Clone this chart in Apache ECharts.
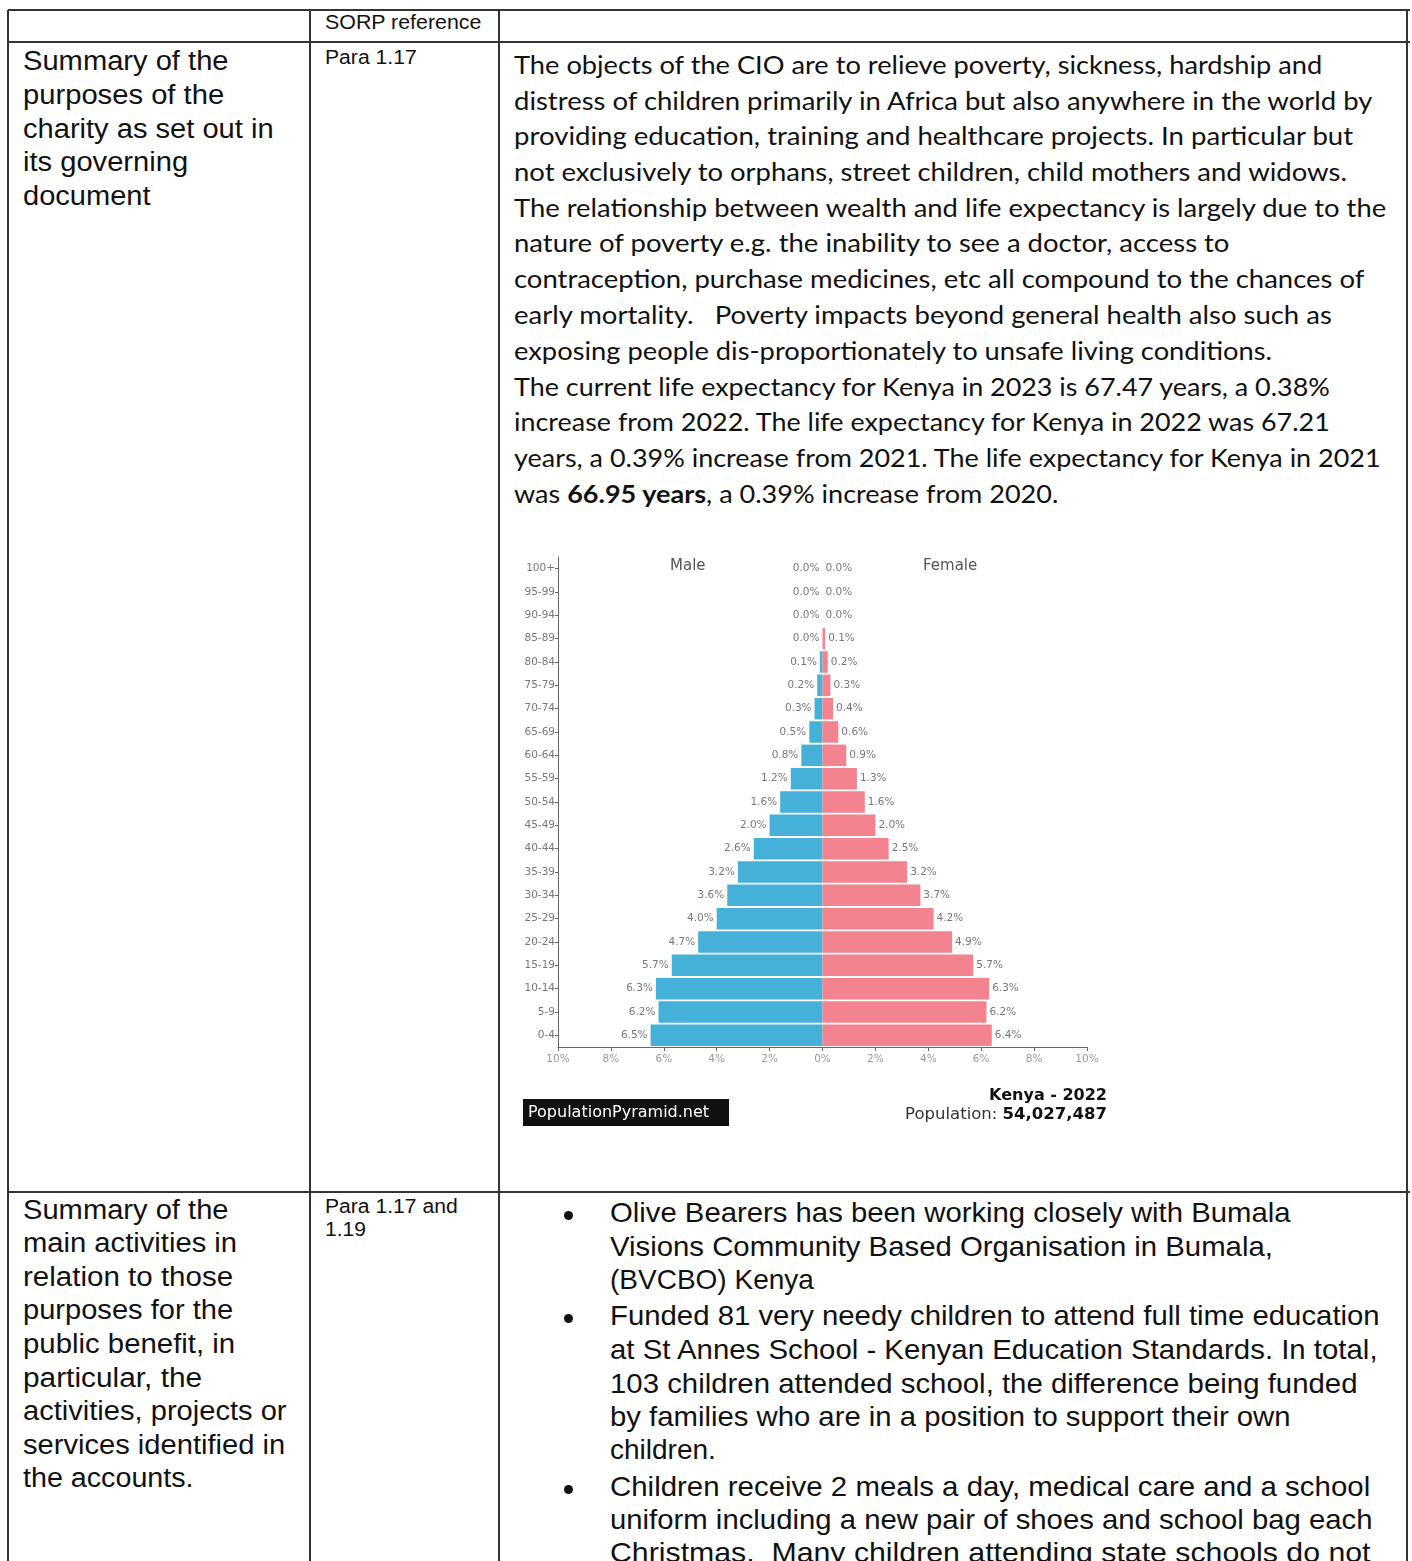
<!DOCTYPE html>
<html><head><meta charset="utf-8">
<script src="https://cdn.jsdelivr.net/npm/echarts/dist/echarts.min.js"></script>
<style>
body{margin:0;background:#fff;}
#page{position:relative;width:1412px;height:1561px;overflow:hidden;background:#fff;}
.ln{position:absolute;white-space:nowrap;transform-origin:0 50%;color:#111;}
.hl{position:absolute;background:#333;height:2px;}
.vl{position:absolute;background:#333;width:2px;}
.dot{position:absolute;width:9px;height:9px;border-radius:50%;background:#111;}
.arial{font-family:'Liberation Sans',Arial,sans-serif;}
.cal{font-family:'Lato','Open Sans',sans-serif;}
#chart{position:absolute;left:505px;top:540px;width:610px;height:600px;}
</style>
</head><body>
<div id="page">
  <div id="chart"></div>
</div>
<script>
// ---------- chart data ----------
const ageGroups = ['100+','95-99','90-94','85-89','80-84','75-79','70-74','65-69','60-64','55-59','50-54','45-49','40-44','35-39','30-34','25-29','20-24','15-19','10-14','5-9','0-4'];
const maleShare   = [0.0,0.0,0.0,0.0,0.1,0.2,0.3,0.5,0.8,1.2,1.6,2.0,2.6,3.2,3.6,4.0,4.7,5.7,6.3,6.2,6.5];
const femaleShare = [0.0,0.0,0.0,0.1,0.2,0.3,0.4,0.6,0.9,1.3,1.6,2.0,2.5,3.2,3.7,4.2,4.9,5.7,6.3,6.2,6.4];
const xTickValues = [-10,-8,-6,-4,-2,0,2,4,6,8,10];
const chartTitle = 'Kenya - 2022';
const populationText = '54,027,487';

// ---------- page text ----------
// [html, left, centerY, rightEdge (null = natural width), fontSize, fontClass]
const textLines = [
  ['SORP reference',325,22,481,20,'arial'],
  ['Summary of the',23,61,229,27,'arial'],
  ['purposes of the',23,95,224,27,'arial'],
  ['charity as set out in',23,129,274,27,'arial'],
  ['its governing',23,162,188,27,'arial'],
  ['document',23,196,151,27,'arial'],
  ['Para 1.17',325,57,417,20,'arial'],
  ['The objects of the CIO are to relieve poverty, sickness, hardship and',514,64,1322,25,'cal'],
  ['distress of children primarily in Africa but also anywhere in the world by',514,100,1372,25,'cal'],
  ['providing education, training and healthcare projects. In particular but',514,135,1353,25,'cal'],
  ['not exclusively to orphans, street children, child mothers and widows.',514,171,1347,25,'cal'],
  ['The relationship between wealth and life expectancy is largely due to the',514,207,1386,25,'cal'],
  ['nature of poverty e.g. the inability to see a doctor, access to',514,242,1230,25,'cal'],
  ['contraception, purchase medicines, etc all compound to the chances of',514,278,1364,25,'cal'],
  ['early mortality.&nbsp;&nbsp; Poverty impacts beyond general health also such as',514,314,1332,25,'cal'],
  ['exposing people dis-proportionately to unsafe living conditions.',514,350,1272,25,'cal'],
  ['The current life expectancy for Kenya in 2023 is 67.47 years, a 0.38%',514,386,1330,25,'cal'],
  ['increase from 2022. The life expectancy for Kenya in 2022 was 67.21',514,421,1330,25,'cal'],
  ['years, a 0.39% increase from 2021. The life expectancy for Kenya in 2021',514,457,1381,25,'cal'],
  ['was <b>66.95 years</b>, a 0.39% increase from 2020.',514,493,1058,25,'cal'],
  ['Summary of the',23,1210,229,27,'arial'],
  ['main activities in',23,1243,237,27,'arial'],
  ['relation to those',23,1277,233,27,'arial'],
  ['purposes for the',23,1310,233,27,'arial'],
  ['public benefit, in',23,1344,235,27,'arial'],
  ['particular, the',23,1378,202,27,'arial'],
  ['activities, projects or',23,1411,287,27,'arial'],
  ['services identified in',23,1445,285,27,'arial'],
  ['the accounts.',23,1478,194,27,'arial'],
  ['Para 1.17 and',325,1206,458,20,'arial'],
  ['1.19',325,1229,366,20,'arial'],
  ['Olive Bearers has been working closely with Bumala',610,1213,1291,28,'arial'],
  ['Visions Community Based Organisation in Bumala,',610,1247,1273,28,'arial'],
  ['(BVCBO) Kenya',610,1280,null,28,'arial'],
  ['Funded 81 very needy children to attend full time education',610,1316,1380,28,'arial'],
  ['at St Annes School - Kenyan Education Standards. In total,',610,1350,1378,28,'arial'],
  ['103 children attended school, the difference being funded',610,1384,1357,28,'arial'],
  ['by families who are in a position to support their own',610,1417,1291,28,'arial'],
  ['children.',610,1450,null,28,'arial'],
  ['Children receive 2 meals a day, medical care and a school',610,1487,1370,28,'arial'],
  ['uniform including a new pair of shoes and school bag each',610,1520,1372,28,'arial'],
  ['Christmas.&nbsp; Many children attending state schools do not',610,1553,1370,28,'arial']
];
const bulletYs = [1215,1318,1489];
// table rules: [x1,y1,x2,y2]
const rules = [
  [8,10,1408,10],[8,42,1408,42],[8,1192,1408,1192],
  [8,10,8,1561],[310,10,310,1561],[499,10,499,1561],[1407,10,1407,1561]
];

const page = document.getElementById('page');
rules.forEach(r=>{
  const d=document.createElement('div');
  if(r[1]===r[3]){d.className='hl';d.style.left=r[0]+'px';d.style.top=(r[1]-1)+'px';d.style.width=(r[2]-r[0]+2)+'px';}
  else{d.className='vl';d.style.left=(r[0]-1)+'px';d.style.top=r[1]+'px';d.style.height=(r[3]-r[1])+'px';}
  page.appendChild(d);
});
bulletYs.forEach(y=>{
  const d=document.createElement('div');d.className='dot';
  d.style.left='564px';d.style.top=(y-4.5)+'px';page.appendChild(d);
});
const lineEls=[];
textLines.forEach(t=>{
  const d=document.createElement('div');
  d.className='ln '+t[5];
  const lh=Math.round(t[4]*1.3);
  d.style.fontSize=t[4]+'px';d.style.lineHeight=lh+'px';d.style.height=lh+'px';
  d.style.left=t[1]+'px';d.style.top=(t[2]-lh/2)+'px';
  d.innerHTML=t[0];
  page.appendChild(d);
  if(t[3]!==null) lineEls.push([d,t[3]-t[1]]);
});
function fit(){
  lineEls.forEach(([d,w])=>{d.style.transform='none';const a=d.offsetWidth;if(a>0)d.style.transform='scaleX('+(w/a)+')';});
}
(document.fonts&&document.fonts.ready?document.fonts.ready:Promise.resolve()).then(fit);
fit();

// ---------- chart ----------
const chart = echarts.init(document.getElementById('chart'));
const fam='DejaVu Sans';
chart.setOption({
  animation:false,
  grid:{left:53,right:28,top:17,bottom:93},
  xAxis:{type:'value',min:-10,max:10,interval:2,
    axisLine:{show:true,lineStyle:{color:'#666',width:1}},
    axisTick:{show:true,length:4,lineStyle:{color:'#666'}},
    splitLine:{show:false},
    axisLabel:{formatter:v=>Math.abs(v)+'%',color:'#999',fontSize:10.5,fontFamily:fam,margin:7}},
  yAxis:{type:'category',data:ageGroups,inverse:true,
    axisLine:{show:true,onZero:false,lineStyle:{color:'#666',width:1}},
    axisTick:{show:true,alignWithLabel:true,length:3,lineStyle:{color:'#666'}},
    axisLabel:{color:'#777',fontSize:10.5,fontFamily:fam,margin:3}},
  series:[
    {name:'Male',type:'bar',data:maleShare.map(v=>-v),barGap:'-100%',barCategoryGap:'8%',
      itemStyle:{color:'#45b1d8'},
      label:{show:true,position:'left',distance:3,formatter:p=>Math.abs(p.value).toFixed(1)+'%',color:'#777',fontSize:10.5,fontFamily:fam}},
    {name:'Female',type:'bar',data:femaleShare,barGap:'-100%',barCategoryGap:'8%',
      itemStyle:{color:'#f2838f'},
      label:{show:true,position:'right',distance:3,formatter:p=>p.value.toFixed(1)+'%',color:'#777',fontSize:10.5,fontFamily:fam}}
  ],
  graphic:[
    {type:'text',left:165,top:19,style:{text:'Male',fill:'#555',font:'15px "DejaVu Sans"'}},
    {type:'text',left:418,top:19,style:{text:'Female',fill:'#555',font:'15px "DejaVu Sans"'}},
    {type:'rect',shape:{x:18,y:559,width:206,height:27},style:{fill:'#111'}},
    {type:'text',x:23,y:572.5,style:{text:'PopulationPyramid.net',fill:'#fff',font:'16px "DejaVu Sans"',verticalAlign:'middle'}},
    {type:'text',x:602,y:556,style:{text:chartTitle,fill:'#111',font:'bold 16px "DejaVu Sans"',align:'right',verticalAlign:'middle'}},
    {type:'text',x:602,y:575,style:{text:'{a|Population: }{b|'+populationText+'}',align:'right',verticalAlign:'middle',
      rich:{a:{fill:'#333',fontSize:16.5,fontFamily:fam},b:{fill:'#111',fontSize:16.5,fontWeight:'bold',fontFamily:fam}}}}
  ]
});
</script>
</body></html>
